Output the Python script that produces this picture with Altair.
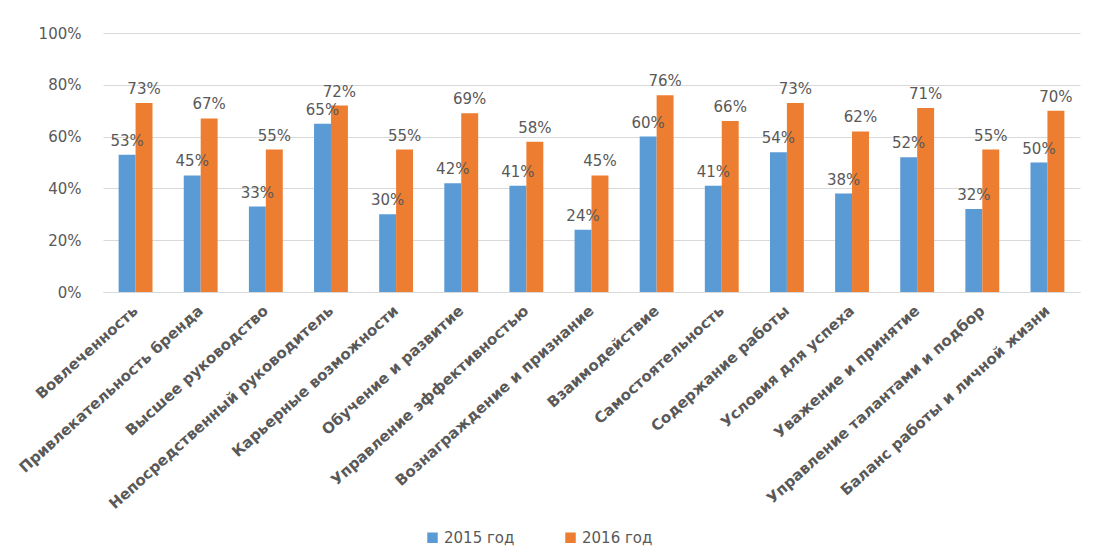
import altair as alt
import pandas as pd

categories = [
    "Вовлеченность", "Привлекательность бренда", "Высшее руководство",
    "Непосредственный руководитель", "Карьерные возможности", "Обучение и развитие",
    "Управление эффективностью", "Вознаграждение и признание", "Взаимодействие",
    "Самостоятельность", "Содержание работы", "Условия для успеха",
    "Уважение и принятие", "Управление талантами и подбор", "Баланс работы и личной жизни",
]
values_2015 = [53, 45, 33, 65, 30, 42, 41, 24, 60, 41, 54, 38, 52, 32, 50]
values_2016 = [73, 67, 55, 72, 55, 69, 58, 45, 76, 66, 73, 62, 71, 55, 70]
series = ["2015 год", "2016 год"]
colors = ["#5B9BD5", "#ED7D31"]

rows = []
for i, c in enumerate(categories):
    rows.append({"cat": c, "series": series[0], "v": values_2015[i] / 100})
    rows.append({"cat": c, "series": series[1], "v": values_2016[i] / 100})
df = pd.DataFrame(rows)

x = alt.X("cat:N", sort=categories, title=None,
          scale=alt.Scale(paddingInner=0.48, paddingOuter=0.24),
          axis=alt.Axis(labelAngle=-42, labelAlign="right", labelBaseline="middle",
                        labelFont="DejaVu Sans", labelFontWeight="bold", labelFontSize=15,
                        labelColor="#595959", labelPadding=16, ticks=False,
                        domainColor="#d9d9d9", labelLimit=400))
y = alt.Y("v:Q", title=None, scale=alt.Scale(domain=[0, 1]),
          axis=alt.Axis(format=".0%", values=[0, 0.2, 0.4, 0.6, 0.8, 1.0], domain=False,
                        ticks=False, labelFont="DejaVu Sans", labelFontSize=15,
                        labelColor="#595959", labelPadding=22, gridColor="#d9d9d9"))
xo = alt.XOffset("series:N", sort=series)
color = alt.Color("series:N", sort=series, title=None,
                  scale=alt.Scale(domain=series, range=colors),
                  legend=alt.Legend(orient="none", direction="horizontal", legendX=322, legendY=497,
                                    symbolType="square", symbolSize=110, symbolStrokeWidth=0,
                                    labelFont="DejaVu Sans", labelFontSize=15, labelColor="#595959",
                                    columnPadding=48, labelOffset=4))

bars = alt.Chart(df).mark_bar().encode(x=x, y=y, xOffset=xo, color=color)
labels = alt.Chart(df).mark_text(baseline="bottom", dy=-6, font="DejaVu Sans", fontSize=15,
                                 color="#595959").encode(
    x=x, y=y, xOffset=xo, text=alt.Text("v:Q", format=".0%"))

chart = (bars + labels).properties(
    width=977, height=259,
    autosize=alt.AutoSizeParams(type="none"),
    padding={"left": 95, "top": 25, "right": 8, "bottom": 261},
).configure_view(stroke=None)

chart.save("out.html", embed_options={"renderer": "svg", "actions": False})
